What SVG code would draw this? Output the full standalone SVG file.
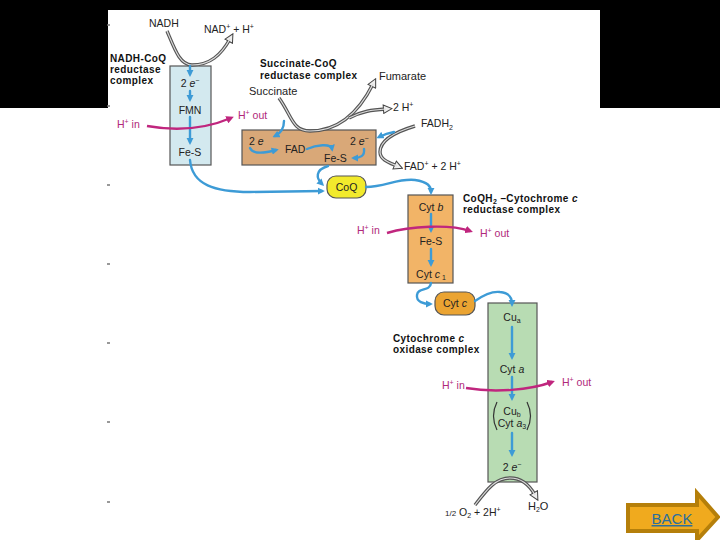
<svg xmlns="http://www.w3.org/2000/svg" width="720" height="540" viewBox="0 0 720 540">
<defs>
<style>
text{font-family:"Liberation Sans",Arial,sans-serif;font-size:10.5px;fill:#222}
.b{font-weight:bold;font-size:10px;letter-spacing:0.4px;fill:#111}
.m{fill:#b0287a}
.c{text-anchor:middle}
.sup{font-size:7px}
.blue{fill:none;stroke:#3d9bd6;stroke-width:2.4;stroke-linecap:round}
.mag{fill:none;stroke:#c0267e;stroke-width:2.4}
.go{fill:none;stroke:#555;stroke-width:3.4}
.gi{fill:none;stroke:#ddd;stroke-width:1.2}
.box{stroke:#555;stroke-width:1.2}
</style>
<marker id="ba" viewBox="0 0 10 10" refX="6" refY="5" markerWidth="3" markerHeight="3" orient="auto" markerUnits="strokeWidth">
<path d="M0,0 L10,5 L0,10 z" fill="#3d9bd6"/>
</marker>
<marker id="ma" viewBox="0 0 10 10" refX="6" refY="5" markerWidth="3.2" markerHeight="3.2" orient="auto" markerUnits="strokeWidth">
<path d="M0,0 L10,5 L0,10 z" fill="#c0267e"/>
</marker>
<marker id="ga" viewBox="0 0 12 12" refX="4" refY="6" markerWidth="3" markerHeight="3" orient="auto" markerUnits="strokeWidth">
<path d="M1,1 L11,6 L1,11 z" fill="#eee" stroke="#444" stroke-width="1.2"/>
</marker>
</defs>
<rect x="0" y="0" width="720" height="540" fill="#fff"/>
<rect x="0" y="0" width="720" height="108" fill="#000"/>
<rect x="108" y="10" width="492" height="98" fill="#fff"/>
<g id="ticks" stroke="#777" stroke-width="1.5">
<line x1="107" y1="25" x2="110" y2="25"/>
<line x1="107" y1="106" x2="110" y2="106"/>
<line x1="107" y1="185" x2="110" y2="185"/>
<line x1="107" y1="264" x2="110" y2="264"/>
<line x1="107" y1="343" x2="110" y2="343"/>
<line x1="107" y1="422" x2="110" y2="422"/>
<line x1="107" y1="502" x2="110" y2="502"/>
</g>

<g id="complex1">
<rect class="box" x="170" y="66" width="41" height="99" fill="#d3e9ef"/>
<text class="c" x="190" y="87">2 <tspan font-style="italic">e</tspan><tspan class="sup" dy="-4">−</tspan></text>
<text class="c" x="190" y="114">FMN</text>
<text class="c" x="190" y="156">Fe-S</text>
<text class="b" x="110" y="62">NADH-CoQ</text>
<text class="b" x="110" y="73">reductase</text>
<text class="b" x="110" y="84">complex</text>
</g>

<g id="complex2">
<rect class="box" x="242" y="130" width="134" height="35" fill="#d9a878"/>
<text x="249" y="145">2 <tspan font-style="italic">e</tspan></text>
<text x="285" y="153">FAD</text>
<text x="350" y="145">2 <tspan font-style="italic">e</tspan><tspan class="sup" dy="-4">−</tspan></text>
<text x="324" y="162">Fe-S</text>
<text class="b" x="260" y="67">Succinate-CoQ</text>
<text class="b" x="260" y="79">reductase complex</text>
</g>

<g id="coq">
<rect x="327" y="176" width="39" height="22" rx="9" fill="#f2ea2c" stroke="#555" stroke-width="1.2"/>
<text class="c" x="346.5" y="191">CoQ</text>
</g>

<g id="complex3">
<rect class="box" x="408" y="195" width="45" height="88" fill="#f2b467"/>
<text class="c" x="431" y="211">Cyt <tspan font-style="italic">b</tspan></text>
<text class="c" x="431" y="245">Fe-S</text>
<text class="c" x="431" y="278">Cyt <tspan font-style="italic">c</tspan><tspan class="sup" dy="2"> 1</tspan></text>
<text class="b" x="463" y="202">CoQH<tspan class="sup" dy="2">2</tspan><tspan dy="-2"> –Cytochrome </tspan><tspan font-style="italic">c</tspan></text>
<text class="b" x="463" y="213">reductase complex</text>
</g>

<g id="cytc">
<rect x="435" y="292" width="40" height="23" rx="9" fill="#eba432" stroke="#555" stroke-width="1.2"/>
<text class="c" x="455" y="307">Cyt <tspan font-style="italic">c</tspan></text>
</g>

<g id="complex4">
<rect class="box" x="488" y="303" width="49" height="179" fill="#b8dcb3"/>
<text class="c" x="512" y="321">Cu<tspan class="sup" dy="2">a</tspan></text>
<text class="c" x="512" y="373">Cyt <tspan font-style="italic">a</tspan></text>
<text class="c" x="512" y="415">Cu<tspan class="sup" dy="2">b</tspan></text>
<text class="c" x="512" y="427">Cyt <tspan font-style="italic">a</tspan><tspan class="sup" dy="2">3</tspan></text>
<path d="M497,402 Q490,416 497,430" fill="none" stroke="#333" stroke-width="1.2"/>
<path d="M527,402 Q534,416 527,430" fill="none" stroke="#333" stroke-width="1.2"/>
<text class="c" x="512" y="471">2 <tspan font-style="italic">e</tspan><tspan class="sup" dy="-4">−</tspan></text>
<text class="b" x="393" y="342">Cytochrome <tspan font-style="italic">c</tspan></text>
<text class="b" x="393" y="353">oxidase complex</text>
</g>

<g id="labels">
<text x="149" y="27">NADH</text>
<text x="204" y="33">NAD<tspan class="sup" dy="-4">+</tspan><tspan dy="4"> + H</tspan><tspan class="sup" dy="-4">+</tspan></text>
<text x="379" y="80" style="font-size:11px">Fumarate</text>
<text x="249" y="95" style="font-size:11px">Succinate</text>
<text x="393" y="111">2 H<tspan class="sup" dy="-4">+</tspan></text>
<text x="421" y="127">FADH<tspan class="sup" dy="3">2</tspan></text>
<text x="404" y="170">FAD<tspan class="sup" dy="-4">+</tspan><tspan dy="4"> + 2 H</tspan><tspan class="sup" dy="-4">+</tspan></text>
<text x="445" y="516"><tspan style="font-size:8px">1/2</tspan> O<tspan class="sup" dy="2">2</tspan><tspan dy="-2"> + 2H</tspan><tspan class="sup" dy="-4">+</tspan></text>
<text x="528" y="510" style="font-size:11px">H<tspan class="sup" dy="2">2</tspan><tspan dy="-2">O</tspan></text>
<text class="m" x="117" y="128">H<tspan class="sup" dy="-4">+</tspan><tspan dy="4"> in</tspan></text>
<text class="m" x="238" y="119">H<tspan class="sup" dy="-4">+</tspan><tspan dy="4"> out</tspan></text>
<text class="m" x="357" y="234">H<tspan class="sup" dy="-4">+</tspan><tspan dy="4"> in</tspan></text>
<text class="m" x="480" y="237">H<tspan class="sup" dy="-4">+</tspan><tspan dy="4"> out</tspan></text>
<text class="m" x="442" y="389">H<tspan class="sup" dy="-4">+</tspan><tspan dy="4"> in</tspan></text>
<text class="m" x="562" y="386">H<tspan class="sup" dy="-4">+</tspan><tspan dy="4"> out</tspan></text>
</g>

<g id="connectors">
<path class="go" d="M167,31 C175,50 180,65 192,65 C210,65 221,55 230,39" marker-end="url(#ga)"/>
<path class="gi" d="M167,31 C175,50 180,65 192,65 C210,65 221,55 230,39"/>
<path class="go" d="M279,98 C292,116 292,131 310,131 C338,131 358,114 373,84" marker-end="url(#ga)"/>
<path class="gi" d="M279,98 C292,116 292,131 310,131 C338,131 358,114 373,84"/>
<path class="go" d="M349,118 C362,111 372,110 386,109" marker-end="url(#ga)"/>
<path class="gi" d="M349,118 C362,111 372,110 386,109"/>
<path class="go" d="M415,126 C395,132 380,140 380,152 C380,160 390,163 397,166" marker-end="url(#ga)"/>
<path class="gi" d="M415,126 C395,132 380,140 380,152 C380,160 390,163 397,166"/>
<path class="go" d="M475,505 C488,488 496,478 510,478 C522,478 530,486 535,495" marker-end="url(#ga)"/>
<path class="gi" d="M475,505 C488,488 496,478 510,478 C522,478 530,486 535,495"/>
<line class="blue" x1="190" y1="66" x2="190" y2="74" marker-end="url(#ba)"/>
<line class="blue" x1="190" y1="91" x2="190" y2="99" marker-end="url(#ba)"/>
<line class="blue" x1="190" y1="117" x2="190" y2="142" marker-end="url(#ba)"/>
<path class="blue" d="M190,160 C192,185 215,192 250,192 L322,191" marker-end="url(#ba)"/>
<path class="blue" d="M284,121 C284,129 281,133 275,136" marker-end="url(#ba)"/>
<path class="blue" d="M250,148 C253,155 265,153 276,150" marker-end="url(#ba)"/>
<path class="blue" d="M307,149 C316,145 331,143 332,149" marker-end="url(#ba)"/>
<path class="blue" d="M364,149 C365,156 360,158 354,158" marker-end="url(#ba)"/>
<path class="blue" d="M394,132 C388,133 383,135 379,137" marker-end="url(#ba)"/>
<path class="blue" d="M328,166 C315,170 316,178 322,184" marker-end="url(#ba)"/>
<path class="blue" d="M366,187 C385,187 398,178 415,180 C428,182 431,186 431,192" marker-end="url(#ba)"/>
<line class="blue" x1="431" y1="214" x2="431" y2="230" marker-end="url(#ba)"/>
<line class="blue" x1="431" y1="249" x2="431" y2="264" marker-end="url(#ba)"/>
<path class="blue" d="M431,283 C430,292 418,287 417,295 C416,302 424,304 430,304" marker-end="url(#ba)"/>
<path class="blue" d="M475,301 C485,294 492,291 500,292 C510,293 512,298 512,304" marker-end="url(#ba)"/>
<line class="blue" x1="512" y1="327" x2="512" y2="357" marker-end="url(#ba)"/>
<line class="blue" x1="512" y1="377" x2="512" y2="398" marker-end="url(#ba)"/>
<line class="blue" x1="512" y1="433" x2="512" y2="454" marker-end="url(#ba)"/>
<path class="mag" d="M147,126 C175,131 205,129 231,118" marker-end="url(#ma)"/>
<path class="mag" d="M387,233 C410,226 450,224 470,231" marker-end="url(#ma)"/>
<path class="mag" d="M466,388 C495,393 530,390 552,382" marker-end="url(#ma)"/>
</g>

<g id="back">
<path d="M628,505 L697,505 L697,493 L718,517 L697,540 L697,531 L628,531 z" fill="#f0aa1e" stroke="#b57f0a" stroke-width="4" stroke-linejoin="miter"/>
<text x="672" y="524" text-anchor="middle" style="font-size:15px;fill:#2a6f9e" text-decoration="underline">BACK</text>
</g>
</svg>
